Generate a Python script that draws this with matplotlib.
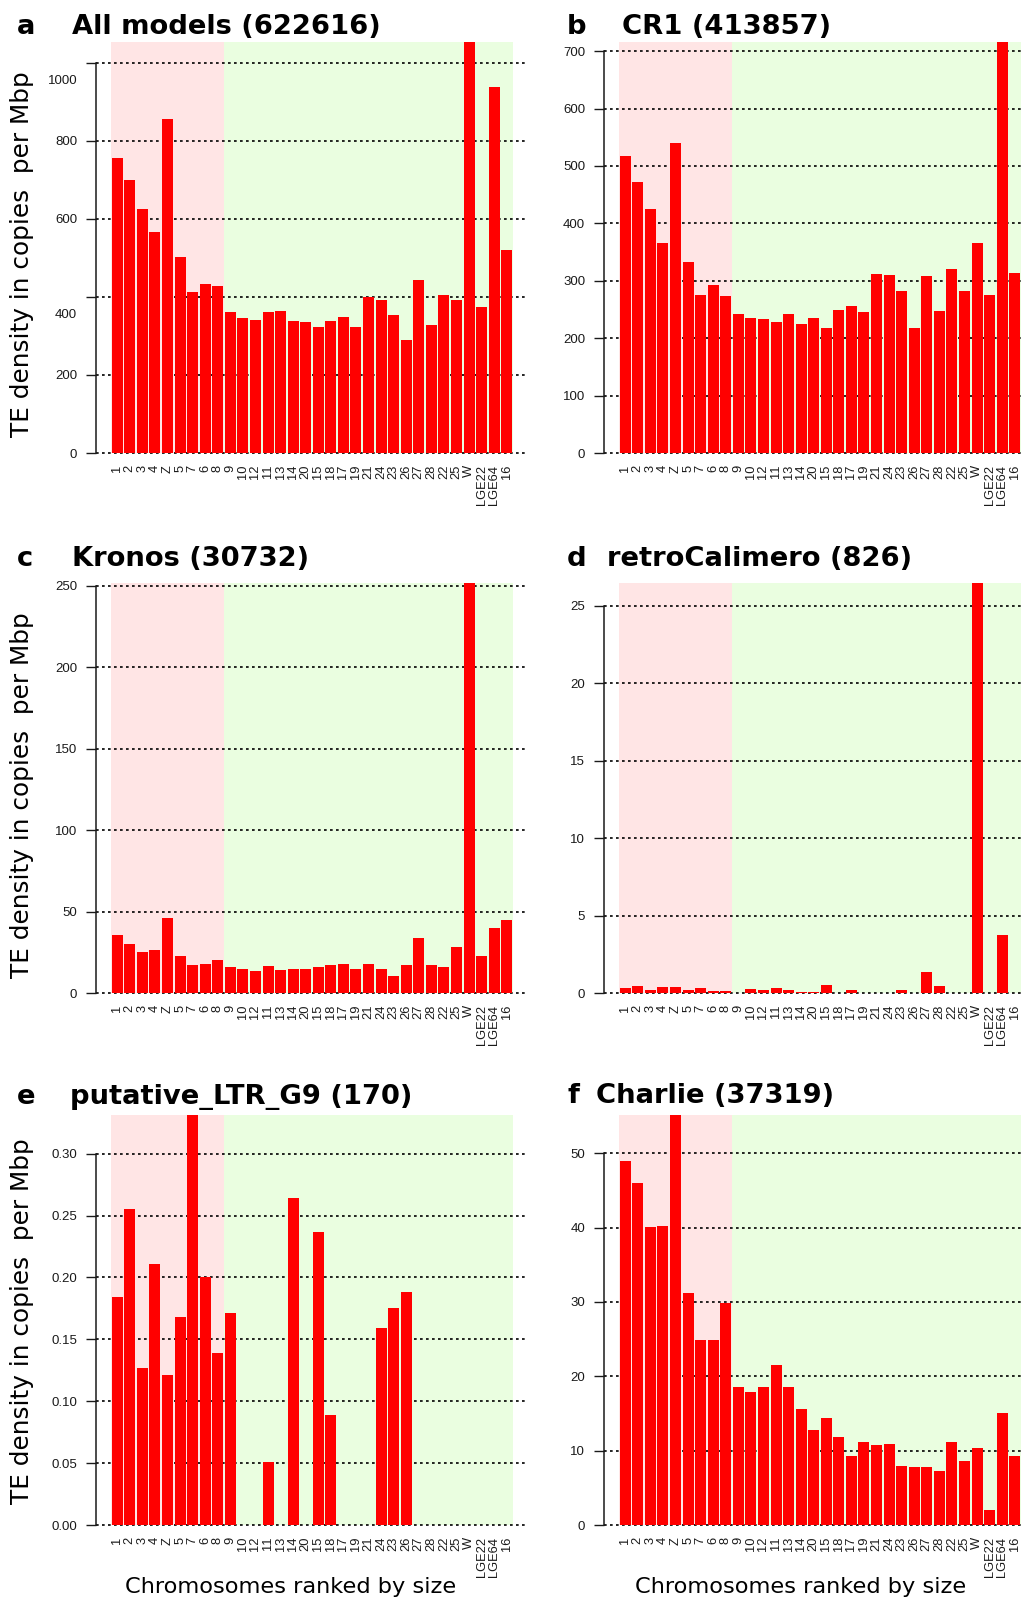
#!/usr/bin/env python3
"""TE density per chromosome (copies per Mbp) for six repeat families.

Chromosomes are ranked by size; the macrochromosomes (1-8 + Z) sit on a
pink band, the rest on a green band.  Bars that run past the panel top
are clipped, as in the original R barplots.
"""

import matplotlib.pyplot as plt
import matplotlib.transforms as mtransforms
import numpy as np

chromosomes = ["1", "2", "3", "4", "Z", "5", "7", "6", "8", "9", "10", "12",
               "11", "13", "14", "20", "15", "18", "17", "19", "21", "24",
               "23", "26", "27", "28", "22", "25", "W", "LGE22", "LGE64", "16"]
n_macro = 9  # 1-8 and Z

all_models = [757, 699, 624, 565, 855, 501, 412, 432, 427, 360, 345, 340,
              360, 363, 337, 335, 322, 337, 348, 322, 399, 391, 353, 289,
              442, 327, 406, 391, 1150, 373, 937, 519]
cr1 = [517, 472, 425, 365, 540, 332, 275, 292, 273, 243, 235, 233, 228, 243,
       224, 236, 217, 249, 256, 245, 311, 310, 282, 217, 308, 247, 320, 282,
       365, 275, 760, 313]
kronos = [35.8, 30.3, 25.3, 26.6, 46.2, 22.9, 17.4, 18.0, 20.4, 16.1, 14.9,
          13.7, 16.8, 14.3, 14.9, 14.9, 16.1, 17.4, 18.0, 14.9, 18.0, 14.9,
          10.6, 17.4, 33.9, 17.4, 16.1, 28.4, 262.0, 22.9, 40.1, 45.0]
retro_calimero = [0.32, 0.45, 0.19, 0.39, 0.39, 0.19, 0.32, 0.13, 0.13, 0.0,
                  0.26, 0.19, 0.32, 0.19, 0.06, 0.06, 0.52, 0.0, 0.19, 0.0,
                  0.0, 0.0, 0.19, 0.0, 1.35, 0.45, 0.0, 0.0, 28.0, 0.0, 3.73,
                  0.0]
ltr_g9 = [0.184, 0.255, 0.127, 0.211, 0.121, 0.168, 0.36, 0.200, 0.139,
          0.171, 0.0, 0.0, 0.051, 0.0, 0.264, 0.0, 0.237, 0.089, 0.0, 0.0,
          0.0, 0.159, 0.175, 0.188, 0.0, 0.0, 0.0, 0.0, 0.0, 0.0, 0.0, 0.0]
charlie = [49.0, 46.0, 40.1, 40.2, 58.0, 31.2, 24.9, 24.9, 29.9, 18.5, 17.9,
           18.6, 21.5, 18.6, 15.6, 12.8, 14.4, 11.9, 9.3, 11.2, 10.8, 10.9,
           8.0, 7.8, 7.8, 7.3, 11.2, 8.6, 10.4, 2.06, 15.0, 9.3]

titles = ["All models (622616)", "CR1 (413857)", "Kronos (30732)",
          "retroCalimero (826)", "putative_LTR_G9 (170)", "Charlie (37319)"]
letters = ["a", "b", "c", "d", "e", "f"]
series = [all_models, cr1, kronos, retro_calimero, ltr_g9, charlie]
y_tops = [1053, 716, 251.6, 26.46, 0.3312, 55.15]
y_ticks = [np.arange(0, 1001, 200), np.arange(0, 701, 100),
           np.arange(0, 251, 50), np.arange(0, 26, 5),
           np.arange(0, 0.301, 0.05), np.arange(0, 51, 10)]
tick_fmt = ["{:.0f}", "{:.0f}", "{:.0f}", "{:.0f}", "{:.2f}", "{:.0f}"]

W, H = 1024, 1599
PINK = "#FFE5E5"
GREEN = "#EAFEE0"
TICK_FONT = "Liberation Sans"

# pixel layout: (left edge of plot region, top, zero line)
col_left = [96, 604]
rows = [(42, 453), (583, 993), (1115, 1525)]
ylabel_mid = [254, 795, 1321]
title_pos = [(17, 72, 34), (567, 622, 34), (17, 72, 566),
             (567, 607, 566), (17, 70, 1104), (567, 596, 1103)]

fig = plt.figure(figsize=(W / 100, H / 100), dpi=100)

x = 0.7 + 1.2 * np.arange(len(chromosomes))
x_lo, x_hi = x[0] - 0.5, x[-1] + 0.5
pad = 0.04 * (x_hi - x_lo)
split = (x[n_macro - 1] + x[n_macro]) / 2

for i, vals in enumerate(series):
    r, c = divmod(i, 2)
    top_px, zero_px = rows[r]
    left = col_left[c]
    ax = fig.add_axes([left / W, 1 - zero_px / H, 432 / W,
                       (zero_px - top_px) / H])
    ax.set_xlim(x_lo - pad, x_hi + pad)
    ax.set_ylim(0, y_tops[i])

    ax.axvspan(x_lo - 0.1, split, color=PINK, lw=0, zorder=0)
    ax.axvspan(split, x_hi + 0.1, color=GREEN, lw=0, zorder=0)
    for t in y_ticks[i]:
        ax.axhline(t, color="black", lw=1.2, ls=(0, (1.6, 2.0)),
                   zorder=1, clip_on=False)
    ax.bar(x, vals, width=1.05, color="#FF0000", lw=0, zorder=2)

    for side in ("top", "right", "bottom"):
        ax.spines[side].set_visible(False)
    ax.spines["left"].set_bounds(0, y_ticks[i][-1])
    ax.spines["left"].set_linewidth(1.1)
    ax.spines["left"].set_color("#1a1a1a")
    ax.set_facecolor("none")

    ax.set_yticks(y_ticks[i])
    ax.set_yticklabels([tick_fmt[i].format(t) for t in y_ticks[i]],
                       fontfamily=TICK_FONT, fontsize=9.5, color="#1a1a1a")
    ax.tick_params(axis="y", length=7, width=1.0, pad=6.5, color="#1a1a1a")
    ax.set_xticks(x)
    ax.set_xticklabels(chromosomes, rotation=90, fontfamily=TICK_FONT,
                       fontsize=9.3, color="#1a1a1a")
    ax.tick_params(axis="x", length=0, pad=8.5)

    if i == 0:
        # the 400 and 1000 labels sit a little below their ticks
        shift = mtransforms.ScaledTranslation(0, -0.17, fig.dpi_scale_trans)
        for lab in ax.get_yticklabels():
            if lab.get_text() in ("400", "1000"):
                lab.set_transform(lab.get_transform() + shift)

    lx, tx, base = title_pos[i]
    fig.text(lx / W, 1 - base / H, letters[i], fontsize=19.7,
             fontweight="bold", va="baseline", ha="left")
    fig.text(tx / W, 1 - base / H, titles[i], fontsize=19.7,
             fontweight="bold", va="baseline", ha="left")

    if c == 0:
        fig.text(22 / W, 1 - ylabel_mid[r] / H,
                 "TE density in copies  per Mbp", rotation=90,
                 fontsize=17.8, ha="center", va="center")
    if r == 2:
        fig.text((291 + 510 * c) / W, 1 - 1593 / H,
                 "Chromosomes ranked by size", fontsize=16.2,
                 ha="center", va="baseline")

fig.savefig("out.png", dpi=100)
